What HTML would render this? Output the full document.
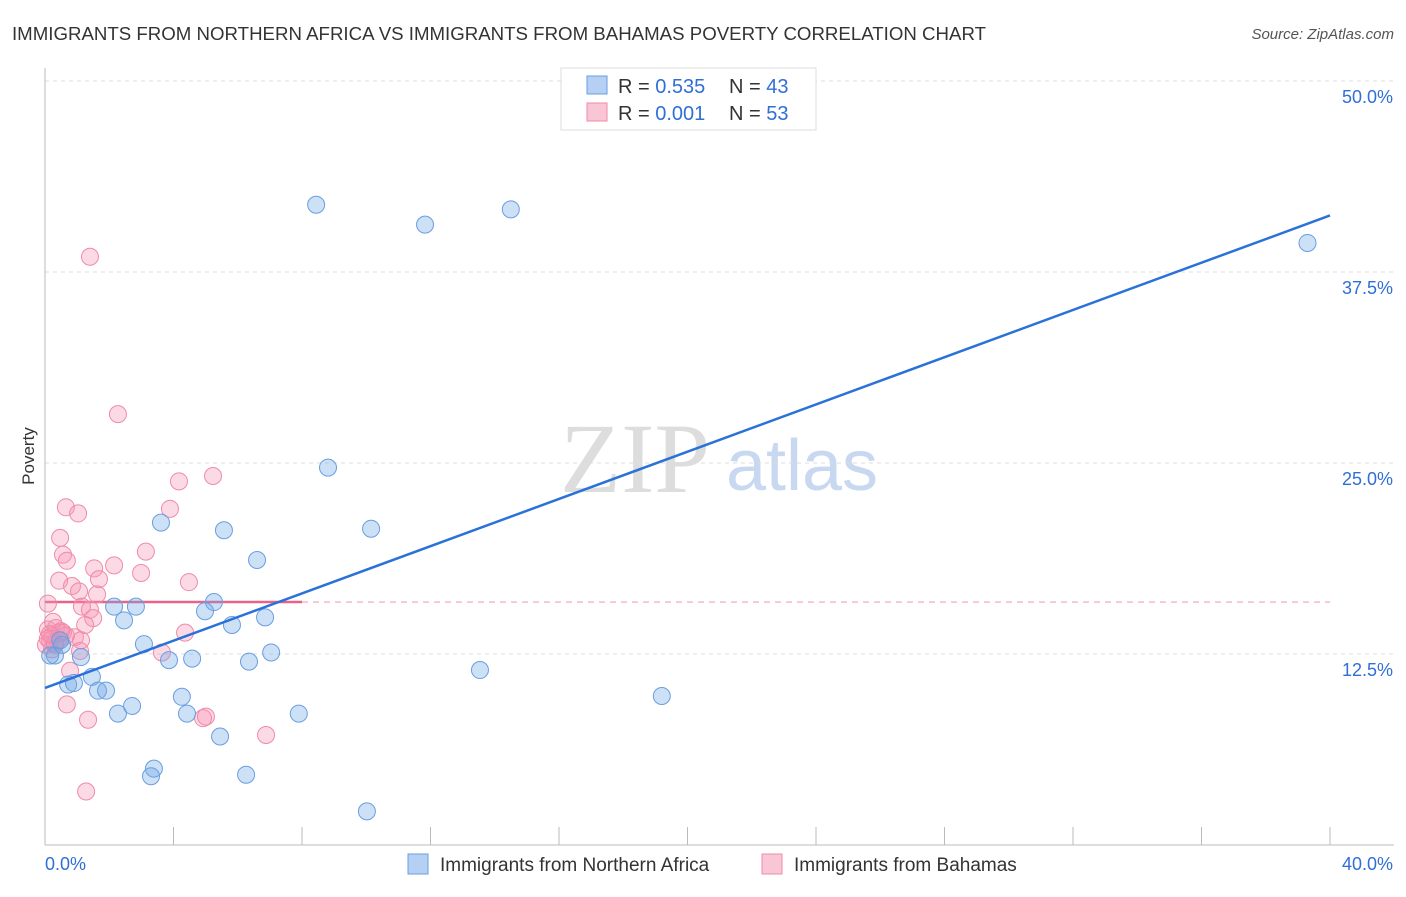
<!DOCTYPE html>
<html><head><meta charset="utf-8"><style>
body{margin:0;background:#fff;font-family:"Liberation Sans",sans-serif;}
</style></head><body>
<svg id="chart" width="1406" height="892" xmlns="http://www.w3.org/2000/svg">
<text x="12" y="40" font-size="18" fill="#333" textLength="974" lengthAdjust="spacingAndGlyphs">IMMIGRANTS FROM NORTHERN AFRICA VS IMMIGRANTS FROM BAHAMAS POVERTY CORRELATION CHART</text>
<text x="1394" y="39" font-size="15" fill="#555" font-style="italic" text-anchor="end">Source: ZipAtlas.com</text>
<text x="34" y="456" font-size="17" fill="#333" transform="rotate(-90 34 456)" text-anchor="middle">Poverty</text>
<g><text x="635" y="492" font-size="100" fill="#ddd" font-family="Liberation Serif,serif" text-anchor="middle">ZIP</text><text x="802" y="490" font-size="72" fill="#c8d8f0" text-anchor="middle">atlas</text></g>
<g id="grid"></g><g id="axes"></g><g id="lines"></g><g id="pts"></g>
<g>
<rect x="561" y="68" width="255" height="62" fill="#fff" stroke="#ddd"/>
<rect x="587" y="76" width="20" height="18" fill="#b5d0f2" stroke="#6a9ee0"/>
<rect x="587" y="103" width="20" height="18" fill="#f9c6d6" stroke="#f08aa8"/>
<text x="618" y="93" font-size="20" fill="#333">R = <tspan fill="#2f6fd6">0.535</tspan></text>
<text x="729" y="93" font-size="20" fill="#333">N = <tspan fill="#2f6fd6">43</tspan></text>
<text x="618" y="120" font-size="20" fill="#333">R = <tspan fill="#2f6fd6">0.001</tspan></text>
<text x="729" y="120" font-size="20" fill="#333">N = <tspan fill="#2f6fd6">53</tspan></text>
</g>
<g>
<rect x="408" y="854" width="20" height="20" fill="#b5d0f2" stroke="#6a9ee0"/>
<text x="440" y="871" font-size="19" fill="#333">Immigrants from Northern Africa</text>
<rect x="762" y="854" width="20" height="20" fill="#f9c6d6" stroke="#f08aa8"/>
<text x="794" y="871" font-size="19" fill="#333">Immigrants from Bahamas</text>
</g>
</svg>
<script>
const yTicks=[12.5,25,37.5,50];
const yTickLabels=["12.5%","25.0%","37.5%","50.0%"];
const xTickLabels=["0.0%","40.0%"];
const blueX=[8.44,11.83,14.5,39.3,8.81,10.15,3.61,5.57,6.6,2.15,2.83,2.46,5.26,4.98,5.82,6.85,3.08,3.86,4.58,6.35,7.04,1.12,0.53,0.31,0.16,13.54,19.2,0.72,0.9,1.46,1.65,1.9,4.26,2.27,2.71,4.42,7.9,5.45,3.39,3.3,6.26,10.02,0.47];
const blueY=[41.9,40.6,41.6,39.4,24.7,20.7,21.1,20.6,18.65,15.6,15.6,14.7,15.9,15.3,14.4,14.9,13.15,12.1,12.2,12.0,12.6,12.3,13.1,12.4,12.4,11.45,9.75,10.5,10.6,11.0,10.1,10.1,9.7,8.6,9.1,8.6,8.6,7.1,5.0,4.5,4.6,2.2,13.4];
const pinkX=[1.4,2.27,4.17,5.23,0.65,1.03,3.89,0.47,0.56,0.68,3.14,1.53,2.15,2.99,0.44,0.84,1.68,4.48,1.06,1.62,0.09,1.15,1.4,1.5,1.25,0.93,1.12,4.36,3.64,1.09,0.78,0.68,1.34,4.92,5.01,6.88,1.28,0.09,0.22,0.34,0.16,0.47,0.03,0.31,0.56,0.25,0.4,0.65,0.09,0.22,0.5,0.3,0.15];
const pinkY=[38.5,28.2,23.8,24.15,22.1,21.7,22.0,20.1,19.0,18.6,19.2,18.1,18.3,17.8,17.3,16.95,17.4,17.2,16.6,16.4,15.8,15.6,15.4,14.85,14.4,13.6,13.4,13.9,12.6,12.7,11.4,9.2,8.2,8.3,8.4,7.2,3.5,14.1,13.7,14.2,13.4,13.9,13.1,13.1,13.9,14.6,13.4,13.7,13.5,12.8,14.0,13.2,13.8];
const blueFit=[10.28,41.2];
const pinkFit=15.9;
const pinkSolidEnd=8;
const X=v=>45+v/40*1285, Y=v=>845-v/12.5*191;
const NS="http://www.w3.org/2000/svg";
function mk(p,t,a){const e=document.createElementNS(NS,t);for(const k in a)e.setAttribute(k,a[k]);p.appendChild(e);return e;}
const g=document.getElementById('grid'),ax=document.getElementById('axes'),ln=document.getElementById('lines'),pt=document.getElementById('pts');
yTicks.forEach((t,i)=>{
 const l=mk(g,'line',{x1:45,x2:1394,y1:Y(t),y2:Y(t),stroke:'#ddd','stroke-dasharray':'4,4'});
 
 
 const tx=mk(g,'text',{x:1393,y:Y(t)+22,'font-size':18,fill:'#2f6fd6','text-anchor':'end'});
 tx.textContent=yTickLabels[i];
 
 
});
mk(ax,'line',{x1:45,x2:45,y1:68,y2:845,stroke:'#bbb'});
mk(ax,'line',{x1:45,x2:1394,y1:845,y2:845,stroke:'#bbb'});
for(let i=0;i<=10;i++){const x=X(i*4);mk(ax,'line',{x1:x,x2:x,y1:827,y2:845,stroke:'#bbb'});}
const xl0=mk(ax,'text',{x:45,y:870,'font-size':18,fill:'#2f6fd6'});xl0.textContent=xTickLabels[0];


const xl1=mk(ax,'text',{x:1393,y:870,'font-size':18,fill:'#2f6fd6','text-anchor':'end'});xl1.textContent=xTickLabels[1];


for(let i=0;i<pinkX.length;i++){const c=mk(pt,'circle',{cx:X(pinkX[i]),cy:Y(pinkY[i]),r:8.5,fill:'rgba(245,150,180,0.35)',stroke:'#f08aa8','stroke-width':1});
 
 }
for(let i=0;i<blueX.length;i++){const c=mk(pt,'circle',{cx:X(blueX[i]),cy:Y(blueY[i]),r:8.5,fill:'rgba(110,165,230,0.35)',stroke:'#6a9ee0','stroke-width':1});
 
 }
const pd=mk(ln,'line',{x1:X(pinkSolidEnd),x2:X(40),y1:Y(pinkFit),y2:Y(pinkFit),stroke:'#f0a0b8','stroke-dasharray':'6,5','stroke-width':1.2});


const ps=mk(ln,'line',{x1:X(0),x2:X(pinkSolidEnd),y1:Y(pinkFit),y2:Y(pinkFit),stroke:'#e8628a','stroke-width':2.5});


const bl=mk(pt,'line',{x1:X(0),x2:X(40),y1:Y(blueFit[0]),y2:Y(blueFit[1]),stroke:'#2a72d8','stroke-width':2.5});


</script>
</body></html>
